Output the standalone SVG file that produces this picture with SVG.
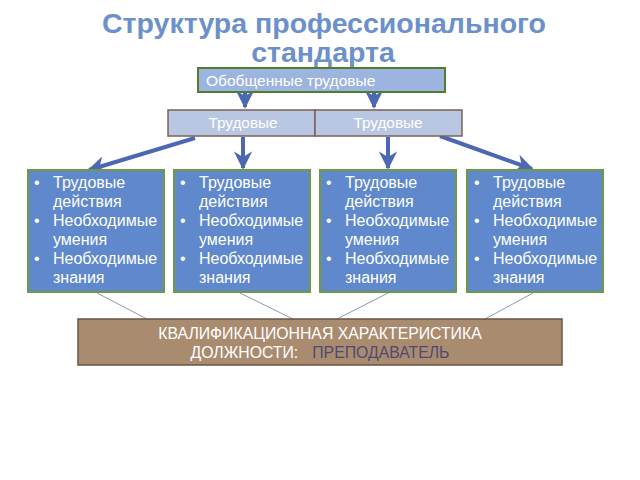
<svg xmlns="http://www.w3.org/2000/svg" width="640" height="480" viewBox="0 0 640 480">
<style>
.title{font-family:"Liberation Sans",Arial,sans-serif;font-size:28.5px;font-weight:bold;fill:#6C90CB;text-anchor:middle}
.t{font-family:"Liberation Sans",Arial,sans-serif;fill:#ffffff}
.box{fill:#5F89CC;stroke:#6F9A42;stroke-width:2}
.card text{font-family:"Liberation Sans",Arial,sans-serif;font-size:16px;fill:#ffffff}
.thick{stroke:#4D68B3;stroke-width:4;fill:none}
.thin{stroke:#8C9AB5;stroke-width:1;fill:none}
</style>
<defs>
<marker id="ah" viewBox="0 0 10 10" refX="9" refY="5" markerWidth="4.6" markerHeight="4.6" orient="auto" markerUnits="strokeWidth">
<path d="M0,0 L10,5 L0,10 L3,5 Z" fill="#4D68B3"/>
</marker>
</defs>
<rect width="640" height="480" fill="#ffffff"/>
<text class="title" x="324" y="33">Структура профессионального</text>
<text class="title" x="323" y="62">стандарта</text>

<g id="connectors">
<line class="thick" x1="245" y1="92" x2="245" y2="107" marker-end="url(#ah)"/>
<line class="thick" x1="374" y1="92" x2="374" y2="107" marker-end="url(#ah)"/>
<line class="thick" x1="195" y1="138" x2="89" y2="170" marker-end="url(#ah)"/>
<line class="thick" x1="243" y1="137" x2="243" y2="168" marker-end="url(#ah)"/>
<line class="thick" x1="388" y1="137" x2="388" y2="168" marker-end="url(#ah)"/>
<line class="thick" x1="440" y1="136" x2="532" y2="169" marker-end="url(#ah)"/>
<line class="thin" x1="97" y1="293" x2="147" y2="319"/>
<line class="thin" x1="240" y1="293" x2="293" y2="319"/>
<line class="thin" x1="388" y1="293" x2="337" y2="319"/>
<line class="thin" x1="533" y1="293" x2="485" y2="319"/>
</g>

<g id="general">
<rect x="198" y="68" width="247" height="24" fill="#9DB4E0" stroke="#4F7D2E" stroke-width="2"/>
<text class="t" x="206" y="86" font-size="15.5">Обобщенные трудовые</text>
</g>

<g id="func1">
<rect x="168" y="110" width="147" height="26" fill="#B9C7E3" stroke="#7A6256" stroke-width="1.5"/>
<text class="t" x="243" y="128" font-size="15.3" text-anchor="middle">Трудовые</text>
</g>
<g id="func2">
<rect x="315" y="110" width="147" height="26" fill="#B9C7E3" stroke="#7A6256" stroke-width="1.5"/>
<text class="t" x="388" y="128" font-size="15.3" text-anchor="middle">Трудовые</text>
</g>

<g id="card1" class="card">
<rect class="box" x="28" y="170" width="136" height="122"/>
<text x="34" y="188">•</text><text x="53" y="188">Трудовые</text>
<text x="53" y="207">действия</text>
<text x="34" y="226">•</text><text x="53" y="226">Необходимые</text>
<text x="53" y="245">умения</text>
<text x="34" y="264">•</text><text x="53" y="264">Необходимые</text>
<text x="53" y="283">знания</text>
</g>
<g id="card2" class="card">
<rect class="box" x="174" y="170" width="136" height="122"/>
<text x="180" y="188">•</text><text x="199" y="188">Трудовые</text>
<text x="199" y="207">действия</text>
<text x="180" y="226">•</text><text x="199" y="226">Необходимые</text>
<text x="199" y="245">умения</text>
<text x="180" y="264">•</text><text x="199" y="264">Необходимые</text>
<text x="199" y="283">знания</text>
</g>
<g id="card3" class="card">
<rect class="box" x="320" y="170" width="136" height="122"/>
<text x="326" y="188">•</text><text x="345" y="188">Трудовые</text>
<text x="345" y="207">действия</text>
<text x="326" y="226">•</text><text x="345" y="226">Необходимые</text>
<text x="345" y="245">умения</text>
<text x="326" y="264">•</text><text x="345" y="264">Необходимые</text>
<text x="345" y="283">знания</text>
</g>
<g id="card4" class="card">
<rect class="box" x="467" y="170" width="136" height="122"/>
<text x="474" y="188">•</text><text x="493" y="188">Трудовые</text>
<text x="493" y="207">действия</text>
<text x="474" y="226">•</text><text x="493" y="226">Необходимые</text>
<text x="493" y="245">умения</text>
<text x="474" y="264">•</text><text x="493" y="264">Необходимые</text>
<text x="493" y="283">знания</text>
</g>

<g id="qualification">
<rect x="78" y="319" width="484" height="46" fill="#A98C70" stroke="#6B5444" stroke-width="1.5"/>
<text class="t" x="320" y="339" font-size="15.8" text-anchor="middle">КВАЛИФИКАЦИОННАЯ ХАРАКТЕРИСТИКА</text>
<text class="t" x="320" y="358" font-size="15.8" text-anchor="middle">ДОЛЖНОСТИ:<tspan fill="#51486F" dx="14">ПРЕПОДАВАТЕЛЬ</tspan></text>
</g>
</svg>
